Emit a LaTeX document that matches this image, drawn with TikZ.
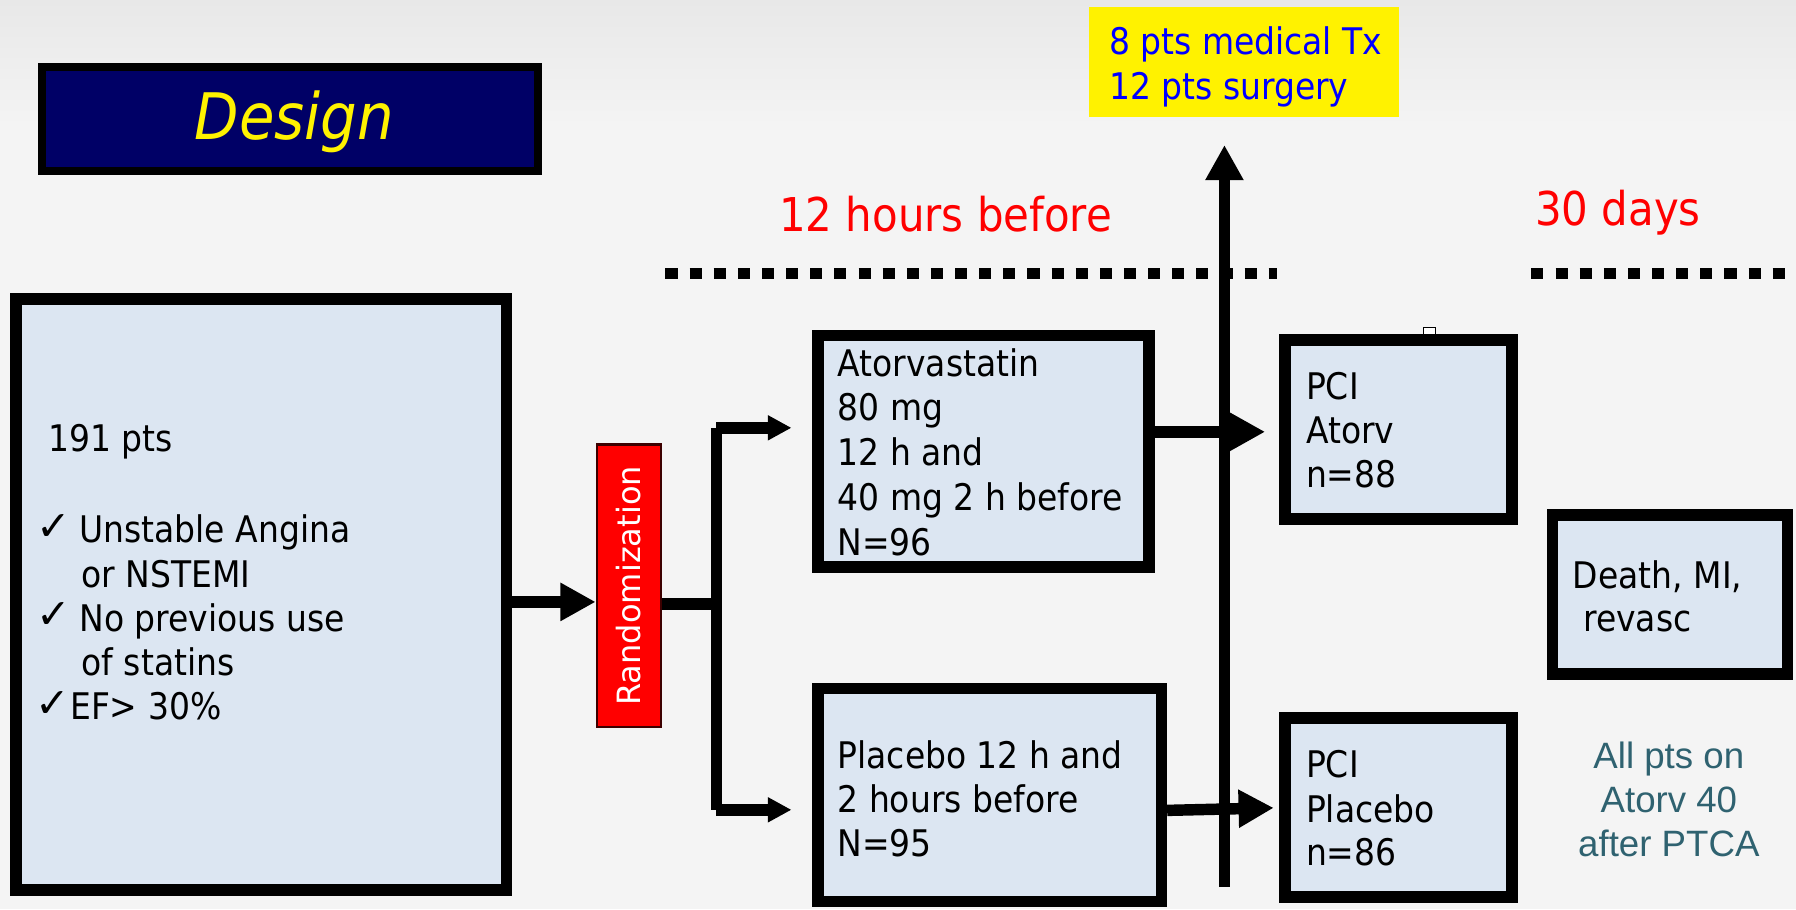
\documentclass[tikz,border=0pt]{standalone}
\usepackage{fontspec}
\setmainfont{DejaVu Sans}
\newfontfamily\tah[FakeStretch=0.9]{DejaVu Sans}
\newfontfamily\verd{DejaVu Sans}
\newfontfamily\ari{Liberation Sans}
\usetikzlibrary{arrows.meta,calc}
\definecolor{navy}{RGB}{0,0,102}
\definecolor{boxblue}{RGB}{220,230,242}
\definecolor{ttblue}{RGB}{0,0,255}
\definecolor{ttred}{RGB}{255,0,0}
\definecolor{teal2}{RGB}{47,98,112}
\definecolor{bggray}{RGB}{244,244,244}
\definecolor{bgtop}{RGB}{232,232,232}
\definecolor{randborder}{RGB}{60,0,0}
\tikzset{
 bluebox/.style={draw=black, line width=7.5pt, fill=boxblue, inner sep=0pt},
 txt/.style={font=\tah\fontsize{24}{29}\selectfont, inner sep=0pt, anchor=base west},
 checktxt/.style={font=\verd\fontsize{27}{27}\selectfont, inner sep=0pt, anchor=base west},
 redtxt/.style={font=\tah\fontsize{30.5}{30.5}\selectfont, text=ttred, inner sep=0pt, anchor=base west},
 tealtxt/.style={font=\ari\fontsize{24}{24}\selectfont, text=teal2, inner sep=0pt, anchor=base},
 bigarrow/.style={line width=7.5pt, -{Triangle[length=23pt,width=23.5pt]}},
 smallarrow/.style={line width=7.5pt, -{Triangle[length=15.5pt,width=15.5pt]}},
 plainline/.style={line width=7.5pt},
 dotline/.style={line width=7.5pt, dash pattern=on 7.9pt off 7.9pt},
}
\begin{document}
\begin{tikzpicture}[x=0.75pt,y=-0.75pt]
\useasboundingbox (0,0) rectangle (1568,794);
\fill[bggray] (0,0) rectangle (1568,794);
\shade[top color=bgtop, bottom color=bggray] (0,0) rectangle (1568,110);
% dotted time lines
\draw[dotline] (581,239) -- (1115,239);
\draw[dotline] (1337,239) -- (1568,239);
% title
\node[draw=black, line width=5.25pt, fill=navy, minimum width=324.75pt, minimum height=68.25pt, inner sep=0pt] (design) at (253,104) {};
\node[font=\tah\itshape\fontsize{42}{42}\selectfont, text=yellow, anchor=base, inner sep=0pt] (designt) at (257,122) {Design};
% yellow note
\node[fill=yellow, minimum width=202.5pt, minimum height=72pt, inner sep=0pt] (note) at (1086,54) {};
\node[txt, text=ttblue] (note1) at (968,48) {8 pts medical Tx};
\node[txt, text=ttblue] (note2) at (968,86.7) {12 pts surgery};
% time labels
\node[redtxt] (before) at (680,202) {12 hours before};
\node[redtxt] (days) at (1340,197) {30 days};
% left box
\node[bluebox, minimum width=321pt, minimum height=387pt] (left) at (228,519) {};
\node[txt] (l1) at (42,394.6) {191 pts};
\node[checktxt] (c1) at (32,472) {✓};
\node[txt] (l2) at (69,474) {Unstable Angina};
\node[txt] (l3) at (71,512.7) {or NSTEMI};
\node[checktxt] (c2) at (32,549) {✓};
\node[txt] (l4) at (69,551) {No previous use};
\node[txt] (l5) at (71,590) {of statins};
\node[checktxt] (c3) at (31,626.5) {✓};
\node[txt] (l6) at (61,628.5) {EF> 30\%};
% randomization
\node[draw=randborder, line width=1.5pt, fill=ttred, minimum width=42pt, minimum height=185.25pt, inner sep=0pt] (rand) at (549,511.5) {};
\node[rotate=90, text=white, font=\verd\fontsize{21}{21}\selectfont, inner sep=0pt] (randt) at (rand.center) {Randomization};
% atorvastatin
\node[bluebox, minimum width=216.75pt, minimum height=151.5pt] (atorv) at (858.5,394) {};
\node[txt] (a1) at (731,328.5) {Atorvastatin};
\node[txt] (a2) at (731,367) {80 mg};
\node[txt] (a3) at (731,406.4) {12 h and};
\node[txt] (a4) at (731,446) {40 mg 2 h before};
\node[txt] (a5) at (731,484.7) {N=96};
% placebo
\node[bluebox, minimum width=225pt, minimum height=139.5pt] (plac) at (864,694) {};
\node[txt] (p1) at (731,670.5) {Placebo 12 h and};
\node[txt] (p2) at (731,709) {2 hours before};
\node[txt] (p3) at (731,747.5) {N=95};
% PCI boxes
\draw[black, line width=0.75pt, fill=white] (1243,286) rectangle (1253,298);
\node[bluebox, minimum width=148.5pt, minimum height=117pt] (pci1) at (1221,375) {};
\node[txt] (q1) at (1140,349) {PCI};
\node[txt] (q2) at (1140,387.6) {Atorv};
\node[txt] (q3) at (1140,426) {n=88};
\node[bluebox, minimum width=148.5pt, minimum height=117pt] (pci2) at (1221,705) {};
\node[txt] (r1) at (1140,679) {PCI};
\node[txt] (r2) at (1140,717.7) {Placebo};
\node[txt] (r3) at (1140,756) {n=86};
% outcome
\node[bluebox, minimum width=153.75pt, minimum height=103.9pt] (death) at (1458,519) {};
\node[txt] (d1) at (1373,513.6) {Death, MI,};
\node[txt] (d2) at (1382,551.5) {revasc};
\node[tealtxt] (e1) at (1457,670.6) {All pts on};
\node[tealtxt] (e2) at (1457,709.5) {Atorv 40};
\node[tealtxt] (e3) at (1457,748) {after PTCA};
% connectors
\coordinate (ya) at (0,525.5);
\draw[bigarrow] (left.east |- ya) -- (rand.west |- ya);
\coordinate (brx) at (625.5,527.5);
\draw[plainline] (rand.east |- brx) -- (brx);
\coordinate (b1) at (625.5,373.5);
\coordinate (b2) at (625.5,707);
\draw[plainline] (b1) -- (b2);
\draw[smallarrow] (b1) -- ($(atorv.west |- b1)+(-18,0)$);
\draw[smallarrow] (b2) -- ($(plac.west |- b2)+(-18,0)$);
\coordinate (y1) at (0,377);
\draw[bigarrow] (atorv.east |- y1) -- ($(pci1.west |- y1)+(-12.5,0)$);
\draw[bigarrow] ($(plac.east)+(0,13.5)$) -- ($(pci2.west)+(-5,0.3)$);
\coordinate (vb) at (1069,774);
\coordinate (vt) at (1069,126.6);
\draw[bigarrow] (vb) -- (vt);
\end{tikzpicture}
\end{document}
